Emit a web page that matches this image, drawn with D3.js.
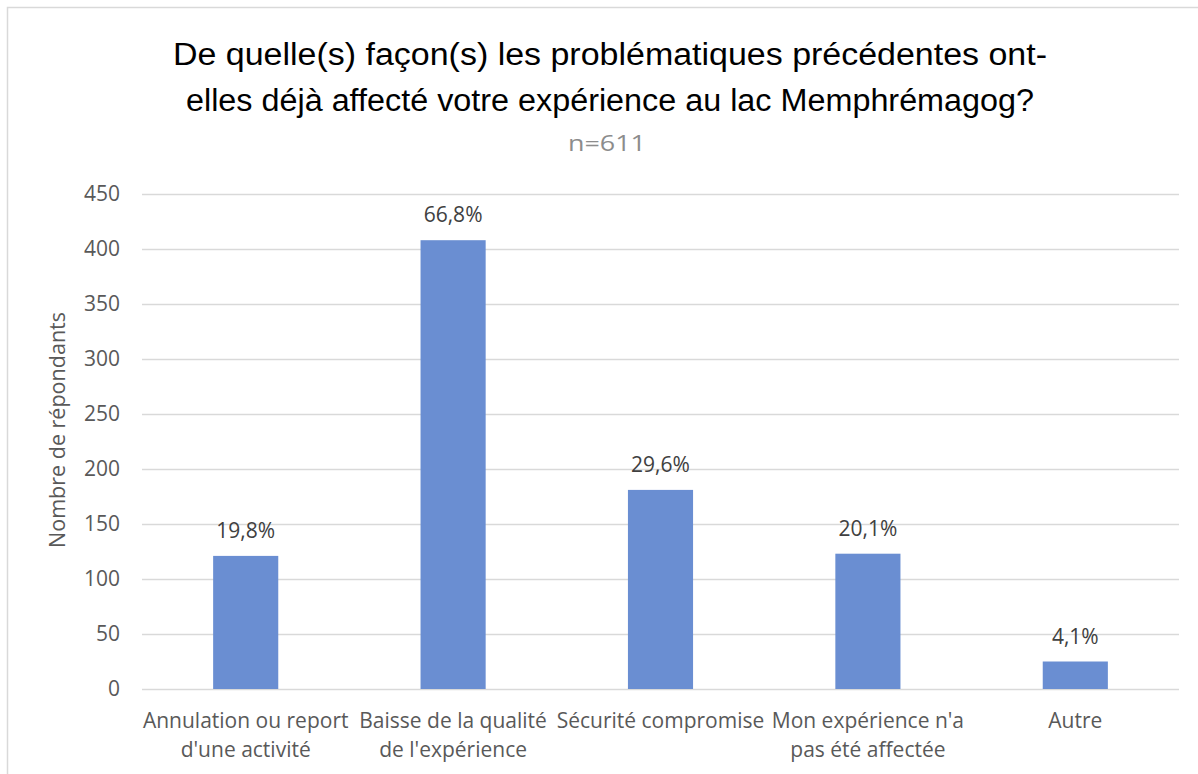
<!DOCTYPE html>
<html>
<head>
<meta charset="utf-8">
<script src="https://cdn.jsdelivr.net/npm/d3@7"></script>
<style>
  body { margin: 0; background: #fff; }
  svg { display: block; }
</style>
</head>
<body>
<svg id="chart"></svg>
<script>
// data
var categories = [
  ["Annulation ou report", "d'une activité"],
  ["Baisse de la qualité", "de l'expérience"],
  ["Sécurité compromise"],
  ["Mon expérience n'a", "pas été affectée"],
  ["Autre"]
];
var counts = [121, 408, 181, 123, 25];
var percentLabels = ["19,8%", "66,8%", "29,6%", "20,1%", "4,1%"];
var yTicks = [0, 50, 100, 150, 200, 250, 300, 350, 400, 450];
var titleLines = [
  "De quelle(s) façon(s) les problématiques précédentes ont-",
  "elles déjà affecté votre expérience au lac Memphrémagog?"
];
var subtitle = "n=611";
var yTitle = "Nombre de répondants";

// sizes
var fullWidth = 1198;
var fullHeight = 774;
var margin = {top: 194, right: 19, bottom: 85, left: 142};
var width = 1179 - margin.left;
var height = 689 - margin.top;

var labelFont = "'Open Sans', 'Noto Sans', sans-serif";
var titleFont = "'Liberation Sans', Arial, sans-serif";
var textColor = "#595959";
var gridColor = "#d9d9d9";
var barColor = "#6a8ed2";

var svg = d3.select("#chart")
  .attr("width", fullWidth)
  .attr("height", fullHeight);

// chart frame
svg.append("rect")
  .attr("x", 7.5).attr("y", 7.5)
  .attr("width", 1250).attr("height", 900)
  .attr("fill", "none")
  .attr("stroke", gridColor)
  .attr("stroke-width", 1.5);

// title
var title = svg.append("g").attr("font-family", titleFont).attr("fill", "#000");
title.append("text")
  .attr("x", 610).attr("y", 65)
  .attr("text-anchor", "middle")
  .attr("font-size", 31)
  .attr("textLength", 874)
  .attr("lengthAdjust", "spacingAndGlyphs")
  .text(titleLines[0]);
title.append("text")
  .attr("x", 610).attr("y", 111)
  .attr("text-anchor", "middle")
  .attr("font-size", 31)
  .attr("textLength", 848)
  .attr("lengthAdjust", "spacingAndGlyphs")
  .text(titleLines[1]);
svg.append("text")
  .attr("x", 607).attr("y", 151)
  .attr("text-anchor", "middle")
  .attr("font-family", labelFont)
  .attr("font-size", 22)
  .attr("textLength", 78)
  .attr("lengthAdjust", "spacingAndGlyphs")
  .attr("fill", "#8c8c8c")
  .text(subtitle);

var g = svg.append("g")
  .attr("transform", "translate(" + margin.left + "," + margin.top + ")");

// scales
var xScale = d3.scaleBand()
  .domain(d3.range(categories.length))
  .range([0, width])
  .paddingInner(0.686)
  .paddingOuter(0.343);

var yScale = d3.scaleLinear()
  .domain([0, 450])
  .range([height, 0]);

// grid lines
g.append("g")
  .selectAll("line")
  .data(yTicks)
  .enter().append("line")
  .attr("x1", 0).attr("x2", width)
  .attr("y1", function(d) { return Math.round(yScale(d)) + 0.5; })
  .attr("y2", function(d) { return Math.round(yScale(d)) + 0.5; })
  .attr("stroke", gridColor)
  .attr("stroke-width", 1.5);

// y axis
var yAxis = d3.axisLeft(yScale).tickValues(yTicks).tickSize(0).tickPadding(22);
var yAxisG = g.append("g").call(yAxis);
yAxisG.select(".domain").remove();
yAxisG.selectAll("text")
  .attr("font-family", labelFont)
  .attr("font-size", 21)
  .attr("fill", textColor);

// y title
svg.append("text")
  .attr("transform", "translate(65,430) rotate(-90)")
  .attr("text-anchor", "middle")
  .attr("font-family", labelFont)
  .attr("font-size", 21)
  .attr("textLength", 236)
  .attr("lengthAdjust", "spacingAndGlyphs")
  .attr("fill", textColor)
  .text(yTitle);

// bars
g.append("g")
  .selectAll("rect")
  .data(counts)
  .enter().append("rect")
  .attr("x", function(d, i) { return xScale(i); })
  .attr("y", function(d) { return yScale(d); })
  .attr("width", xScale.bandwidth())
  .attr("height", function(d) { return height - yScale(d); })
  .attr("fill", barColor);

// data labels
g.append("g")
  .selectAll("text")
  .data(counts)
  .enter().append("text")
  .attr("x", function(d, i) { return xScale(i) + xScale.bandwidth() / 2; })
  .attr("y", function(d) { return yScale(d) - 18; })
  .attr("text-anchor", "middle")
  .attr("font-family", labelFont)
  .attr("font-size", 21)
  .attr("fill", "#404040")
  .text(function(d, i) { return percentLabels[i]; });

// x axis labels
var xLabels = g.append("g")
  .selectAll("text")
  .data(categories)
  .enter().append("text")
  .attr("x", function(d, i) { return xScale(i) + xScale.bandwidth() / 2; })
  .attr("y", height + 39)
  .attr("text-anchor", "middle")
  .attr("font-family", labelFont)
  .attr("font-size", 21)
  .attr("fill", textColor);

xLabels.selectAll("tspan")
  .data(function(d) { return d; })
  .enter().append("tspan")
  .attr("x", function() { return d3.select(this.parentNode).attr("x"); })
  .attr("dy", function(d, i) { return i === 0 ? 0 : 29; })
  .text(function(d) { return d; });
</script>
</body>
</html>
